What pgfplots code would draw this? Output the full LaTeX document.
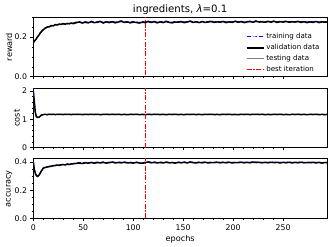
\documentclass[border=0pt]{standalone}
\usepackage{fontspec}
\setmainfont{DejaVu Sans}
\usepackage{pgfplots}
\usepackage{pgfplotstable}
\pgfplotsset{compat=1.18}

\pgfplotstableread{
e tr va te
0 0.170 0.172 0.171
1 0.178 0.180 0.177
2 0.186 0.184 0.183
3 0.193 0.191 0.192
4 0.199 0.200 0.198
5 0.207 0.205 0.206
6 0.214 0.213 0.212
7 0.220 0.222 0.219
8 0.228 0.226 0.227
9 0.233 0.234 0.231
10 0.239 0.237 0.238
12 0.245 0.246 0.244
14 0.249 0.251 0.248
16 0.254 0.252 0.253
18 0.256 0.258 0.255
20 0.259 0.257 0.258
22 0.262 0.263 0.261
24 0.264 0.261 0.263
26 0.263 0.266 0.264
28 0.267 0.264 0.265
30 0.266 0.268 0.267
32 0.269 0.265 0.268
34 0.267 0.269 0.266
36 0.270 0.267 0.269
38 0.268 0.271 0.270
40 0.271 0.268 0.270
43 0.276 0.273 0.272
46 0.279 0.276 0.275
49 0.273 0.271 0.270
52 0.278 0.275 0.276
55 0.274 0.272 0.271
58 0.280 0.278 0.277
61 0.275 0.273 0.274
64 0.277 0.275 0.273
67 0.281 0.279 0.278
70 0.274 0.271 0.272
73 0.278 0.277 0.275
76 0.276 0.273 0.274
79 0.280 0.278 0.276
82 0.275 0.272 0.273
85 0.279 0.276 0.277
88 0.282 0.280 0.278
91 0.276 0.274 0.275
94 0.278 0.277 0.276
97 0.275 0.272 0.271
100 0.279 0.276 0.277
103 0.276 0.274 0.273
106 0.274 0.271 0.272
109 0.278 0.275 0.276
112 0.277 0.273 0.274
115 0.281 0.279 0.277
118 0.276 0.274 0.275
121 0.280 0.278 0.276
124 0.275 0.272 0.273
127 0.279 0.277 0.278
130 0.276 0.273 0.274
133 0.281 0.279 0.277
136 0.277 0.274 0.275
139 0.275 0.272 0.273
142 0.279 0.276 0.277
145 0.277 0.275 0.274
148 0.280 0.278 0.276
151 0.276 0.273 0.274
154 0.278 0.276 0.277
157 0.282 0.280 0.279
160 0.277 0.274 0.275
163 0.279 0.277 0.276
166 0.275 0.273 0.274
169 0.280 0.278 0.277
172 0.277 0.274 0.275
175 0.279 0.276 0.277
178 0.282 0.279 0.278
181 0.276 0.274 0.273
184 0.280 0.277 0.278
187 0.277 0.275 0.276
190 0.281 0.279 0.277
193 0.276 0.273 0.274
196 0.279 0.277 0.276
199 0.277 0.274 0.275
202 0.282 0.280 0.278
205 0.277 0.275 0.276
208 0.280 0.278 0.277
211 0.276 0.273 0.274
214 0.279 0.277 0.278
217 0.281 0.278 0.277
220 0.277 0.275 0.276
223 0.283 0.280 0.279
226 0.278 0.276 0.277
229 0.280 0.277 0.276
232 0.277 0.275 0.274
235 0.281 0.279 0.278
238 0.278 0.275 0.276
241 0.282 0.280 0.279
244 0.277 0.274 0.275
247 0.280 0.278 0.277
250 0.278 0.276 0.275
253 0.282 0.279 0.278
256 0.277 0.275 0.276
259 0.280 0.277 0.278
262 0.278 0.276 0.275
265 0.281 0.279 0.277
268 0.277 0.274 0.276
271 0.280 0.278 0.277
274 0.276 0.273 0.274
277 0.279 0.277 0.278
280 0.277 0.274 0.275
283 0.281 0.279 0.278
286 0.276 0.273 0.274
289 0.280 0.277 0.278
292 0.277 0.275 0.276
294 0.279 0.276 0.277
}\rewardtab

\pgfplotstableread{
e tr va te
0 2.000 2.000 2.000
1 1.640 1.620 1.630
2 1.270 1.250 1.260
3 1.110 1.100 1.105
4 1.075 1.070 1.072
5 1.072 1.068 1.070
6 1.085 1.080 1.082
7 1.120 1.115 1.118
8 1.150 1.145 1.148
9 1.162 1.158 1.160
10 1.170 1.168 1.167
12 1.176 1.174 1.172
14 1.168 1.166 1.169
16 1.181 1.178 1.176
18 1.172 1.170 1.173
20 1.179 1.177 1.175
22 1.170 1.168 1.171
24 1.178 1.176 1.174
26 1.173 1.171 1.172
28 1.177 1.175 1.176
30 1.171 1.169 1.170
32 1.176 1.174 1.175
34 1.172 1.171 1.173
36 1.175 1.173 1.174
38 1.170 1.169 1.171
40 1.174 1.172 1.173
43 1.173 1.171 1.172
46 1.176 1.174 1.175
49 1.170 1.169 1.171
52 1.174 1.172 1.173
55 1.171 1.170 1.172
58 1.175 1.173 1.174
61 1.172 1.170 1.171
64 1.174 1.173 1.175
67 1.170 1.169 1.170
70 1.173 1.171 1.172
73 1.176 1.174 1.173
76 1.171 1.170 1.172
79 1.174 1.172 1.173
82 1.172 1.170 1.171
85 1.175 1.173 1.174
88 1.171 1.169 1.170
91 1.173 1.172 1.174
94 1.170 1.168 1.169
97 1.174 1.172 1.173
100 1.172 1.170 1.171
103 1.175 1.173 1.172
106 1.171 1.169 1.170
109 1.173 1.171 1.172
112 1.170 1.169 1.171
115 1.174 1.172 1.173
118 1.171 1.170 1.172
121 1.173 1.171 1.170
124 1.175 1.173 1.174
127 1.171 1.169 1.170
130 1.173 1.172 1.171
133 1.170 1.168 1.169
136 1.174 1.172 1.173
139 1.172 1.170 1.171
142 1.175 1.173 1.172
145 1.171 1.169 1.170
148 1.173 1.171 1.172
151 1.170 1.169 1.171
154 1.174 1.172 1.173
157 1.172 1.170 1.169
160 1.175 1.173 1.174
163 1.171 1.169 1.170
166 1.173 1.172 1.171
169 1.170 1.168 1.169
172 1.174 1.172 1.173
175 1.172 1.170 1.171
178 1.175 1.174 1.173
181 1.171 1.169 1.170
184 1.173 1.171 1.172
187 1.170 1.169 1.171
190 1.174 1.172 1.173
193 1.172 1.170 1.171
196 1.175 1.173 1.172
199 1.171 1.169 1.170
202 1.173 1.171 1.172
205 1.170 1.168 1.169
208 1.174 1.172 1.173
211 1.172 1.170 1.171
214 1.175 1.173 1.174
217 1.171 1.169 1.170
220 1.173 1.172 1.171
223 1.176 1.174 1.173
226 1.172 1.170 1.171
229 1.174 1.172 1.173
232 1.170 1.169 1.171
235 1.173 1.171 1.172
238 1.171 1.169 1.170
241 1.174 1.172 1.173
244 1.172 1.170 1.171
247 1.175 1.173 1.172
250 1.171 1.169 1.170
253 1.173 1.171 1.172
256 1.170 1.168 1.169
259 1.174 1.172 1.173
262 1.172 1.170 1.171
265 1.175 1.173 1.174
268 1.171 1.169 1.170
271 1.173 1.172 1.171
274 1.170 1.168 1.169
277 1.174 1.172 1.173
280 1.172 1.170 1.171
283 1.175 1.173 1.172
286 1.171 1.169 1.170
289 1.173 1.171 1.172
292 1.170 1.169 1.171
294 1.173 1.171 1.172
}\costtab

\pgfplotstableread{
e tr va te
0 0.402 0.400 0.401
1 0.345 0.350 0.348
2 0.318 0.320 0.322
3 0.305 0.306 0.308
4 0.300 0.298 0.302
5 0.303 0.301 0.304
6 0.312 0.310 0.309
7 0.325 0.322 0.320
8 0.338 0.335 0.333
9 0.349 0.346 0.344
10 0.358 0.356 0.354
12 0.364 0.361 0.362
14 0.366 0.365 0.363
16 0.370 0.367 0.368
18 0.372 0.370 0.369
20 0.375 0.373 0.374
22 0.377 0.374 0.376
24 0.380 0.378 0.377
26 0.379 0.376 0.378
28 0.382 0.380 0.379
30 0.383 0.381 0.382
32 0.382 0.379 0.380
34 0.386 0.384 0.383
36 0.385 0.382 0.384
38 0.388 0.386 0.385
40 0.389 0.387 0.388
43 0.393 0.390 0.389
46 0.396 0.392 0.394
49 0.391 0.389 0.388
52 0.397 0.394 0.395
55 0.394 0.392 0.390
58 0.398 0.396 0.395
61 0.395 0.391 0.393
64 0.399 0.396 0.394
67 0.396 0.393 0.395
70 0.400 0.397 0.396
73 0.395 0.392 0.393
76 0.398 0.395 0.396
79 0.401 0.399 0.397
82 0.396 0.393 0.394
85 0.399 0.396 0.397
88 0.397 0.394 0.393
91 0.400 0.398 0.396
94 0.396 0.393 0.394
97 0.398 0.395 0.396
100 0.395 0.392 0.393
103 0.399 0.397 0.395
106 0.396 0.393 0.394
109 0.394 0.391 0.392
112 0.398 0.395 0.396
115 0.402 0.400 0.398
118 0.397 0.394 0.395
121 0.400 0.397 0.398
124 0.396 0.393 0.394
127 0.399 0.396 0.397
130 0.397 0.393 0.395
133 0.400 0.398 0.396
136 0.396 0.394 0.395
139 0.398 0.395 0.396
142 0.395 0.392 0.393
145 0.399 0.397 0.396
148 0.397 0.394 0.395
151 0.400 0.398 0.397
154 0.396 0.393 0.394
157 0.401 0.399 0.397
160 0.398 0.395 0.396
163 0.396 0.393 0.394
166 0.399 0.397 0.398
169 0.397 0.394 0.395
172 0.400 0.398 0.397
175 0.396 0.393 0.394
178 0.399 0.396 0.397
181 0.397 0.395 0.396
184 0.401 0.398 0.397
187 0.396 0.394 0.395
190 0.399 0.397 0.398
193 0.397 0.394 0.395
196 0.400 0.398 0.396
199 0.396 0.393 0.394
202 0.399 0.396 0.397
205 0.397 0.395 0.396
208 0.401 0.398 0.397
211 0.396 0.394 0.395
214 0.400 0.397 0.398
217 0.397 0.394 0.395
220 0.402 0.399 0.398
223 0.398 0.396 0.397
226 0.400 0.397 0.396
229 0.396 0.394 0.395
232 0.399 0.397 0.398
235 0.397 0.394 0.395
238 0.401 0.398 0.397
241 0.397 0.395 0.396
244 0.400 0.397 0.398
247 0.396 0.393 0.394
250 0.399 0.397 0.396
253 0.397 0.394 0.395
256 0.400 0.398 0.397
259 0.396 0.393 0.394
262 0.399 0.397 0.398
265 0.397 0.394 0.395
268 0.401 0.398 0.397
271 0.396 0.394 0.395
274 0.399 0.396 0.397
277 0.397 0.395 0.394
280 0.400 0.397 0.398
283 0.396 0.393 0.394
286 0.399 0.397 0.396
289 0.395 0.392 0.393
292 0.399 0.396 0.397
294 0.397 0.394 0.395
}\acctab

\definecolor{mplred}{rgb}{1,0,0}
\definecolor{mplblue}{rgb}{0,0,1}
\definecolor{mplgray}{rgb}{0.5,0.5,0.5}
\tikzset{
  myTrain/.style={draw=mplblue, line width=1bp, dash pattern=on 4bp off 2bp},
  myVal/.style={draw=black, line width=1.5bp},
  myTest/.style={draw=mplgray, line width=0.6bp},
  myBest/.style={draw=mplred, line width=1.2bp, dash pattern=on 5bp off 1.5bp on 1.5bp off 1.5bp},
}
\pgfplotsset{
  myax/.style={
    scale only axis, width=293.7bp,
    xmin=0, xmax=294, ymin=0,
    xtick={0,50,...,250}, minor x tick num=4,
    tick pos=left, tick align=outside,
    major tick length=2.8bp, minor tick length=1.6bp,
    every tick/.style={black, line width=0.5bp},
    axis line style={line width=0.6bp},
    tick label style={font=\fontsize{7.8}{9}\selectfont},
    label style={font=\fontsize{8.2}{10}\selectfont},
    ylabel shift=-4.5bp,
    /pgf/number format/assume math mode=true,
    legend style={draw=none, fill=none, font=\fontsize{7.1}{8}\selectfont,
      at={(0.985,0.78)}, anchor=north east, row sep=0bp, inner sep=1bp},
    legend cell align=left,
  },
}

\begin{document}
\begin{tikzpicture}
\path[use as bounding box] (0,0) rectangle (332bp,247bp);

\begin{axis}[myax, at={(33.3bp,170.3bp)}, anchor=south west, height=59.4bp,
  ymax=0.30, ytick={0,0.2,0.4}, minor y tick num=3,
  yticklabel style={/pgf/number format/.cd, fixed, fixed zerofill, precision=1},
  xticklabels={},
  ylabel={reward},
  every axis title shift=0pt,
  title={ingredients, {\itshape λ}=0.1},
  title style={font=\fontsize{10.2}{12}\selectfont, at={(0.5,1)}, anchor=base, yshift=4.8bp}]
\addlegendimage{myTrain}
\addlegendentry{training data}
\addlegendimage{myVal}
\addlegendentry{validation data}
\addlegendimage{myTest}
\addlegendentry{testing data}
\addlegendimage{myBest}
\addlegendentry{best iteration}
\addplot[myTest, forget plot] table[x=e,y=te] {\rewardtab};
\addplot[myTrain, forget plot] table[x=e,y=tr] {\rewardtab};
\addplot[myVal, forget plot] table[x=e,y=va] {\rewardtab};
\addplot[myBest, forget plot] coordinates {(112.5,-1) (112.5,3)};
\end{axis}

\begin{axis}[myax, at={(33.3bp,99.3bp)}, anchor=south west, height=59bp,
  ymax=2.08, ytick={0,1,2}, minor y tick num=4,
  xticklabels={},
  ylabel={cost}]
\addplot[myTest] table[x=e,y=te] {\costtab};
\addplot[myTrain] table[x=e,y=tr] {\costtab};
\addplot[myVal] table[x=e,y=va] {\costtab};
\addplot[myBest] coordinates {(112.5,-1) (112.5,3)};
\end{axis}

\begin{axis}[myax, at={(33.3bp,28.3bp)}, anchor=south west, height=60bp,
  ymax=0.423, ytick={0,0.2,0.4}, minor y tick num=3,
  yticklabel style={/pgf/number format/.cd, fixed, fixed zerofill, precision=1},
  xlabel={epochs}, xlabel shift=-2bp,
  ylabel={accuracy}]
\addplot[myTest] table[x=e,y=te] {\acctab};
\addplot[myTrain] table[x=e,y=tr] {\acctab};
\addplot[myVal] table[x=e,y=va] {\acctab};
\addplot[myBest] coordinates {(112.5,-1) (112.5,3)};
\end{axis}
\end{tikzpicture}
\end{document}
